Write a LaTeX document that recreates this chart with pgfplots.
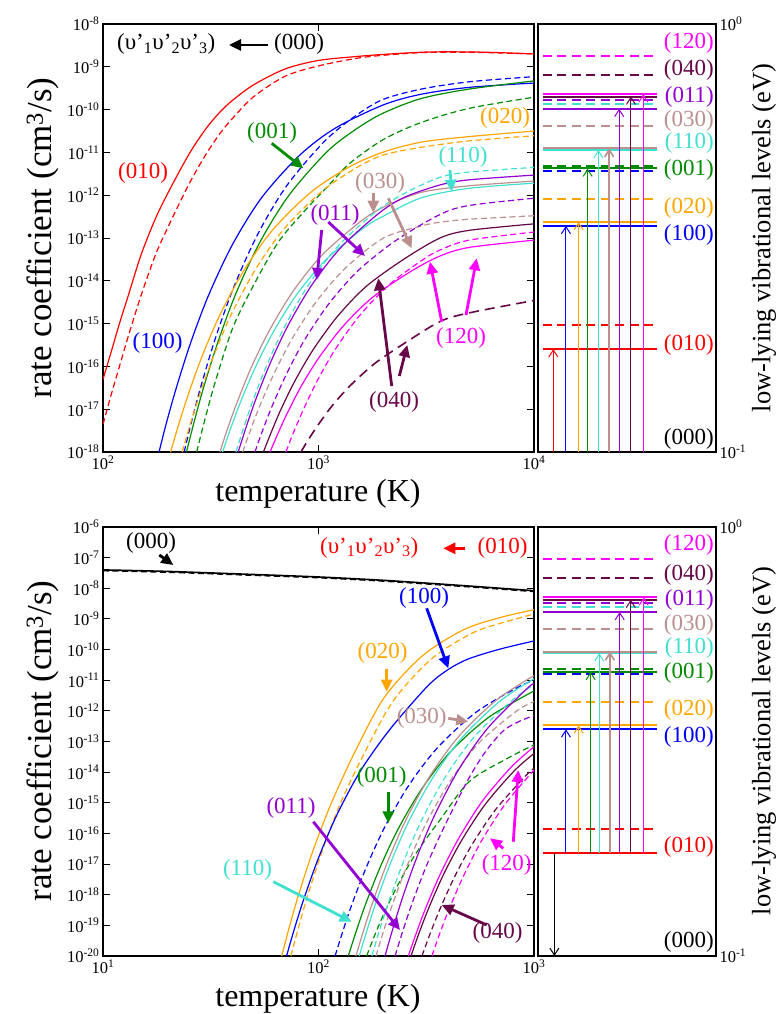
\documentclass[border=0pt]{standalone}
\usepackage{fontspec}
\setmainfont{Liberation Serif}
\usepackage{pgfplots}
\pgfplotsset{compat=1.18}
\usetikzlibrary{arrows.meta}

\definecolor{cred}{RGB}{255,0,0}
\definecolor{cblue}{RGB}{0,0,255}
\definecolor{corange}{RGB}{255,165,0}
\definecolor{cgreen}{RGB}{0,139,0}
\definecolor{cbrown}{RGB}{188,143,143}
\definecolor{ccyan}{RGB}{64,224,208}
\definecolor{cviolet}{RGB}{148,0,211}
\definecolor{cmaroon}{RGB}{103,7,72}
\definecolor{cmag}{RGB}{255,0,255}

\newcommand{\fa}{\fontsize{23}{23}\selectfont}
\newcommand{\fx}{\fontsize{32}{32}\selectfont}
\newcommand{\fy}{\fontsize{35}{35}\selectfont}
\newcommand{\fr}{\fontsize{26.5}{26.5}\selectfont}
\newcommand{\ft}{\fontsize{16.5}{16.5}\selectfont}
\newcommand{\tl}{\pgfmathparse{int(round(\tick))}\ft 10\textsuperscript{\pgfmathresult}}

\tikzset{
  sol/.style={line width=1.2pt, smooth},
  das/.style={line width=1.2pt, smooth, dash pattern=on 6pt off 3.5pt},
  lev/.style={line width=2pt},
  levd/.style={line width=2pt, dash pattern=on 9pt off 5.5pt},
  ann/.style={line width=2.8pt, -{Triangle[length=12pt,width=11pt]}},
  larr/.style={line width=1pt, -{Straight Barb[length=7pt,width=9pt]}},
  rlab/.style={anchor=east, inner sep=0pt, font=\fa},
  alab/.style={anchor=center, inner sep=0pt, font=\fa},
}

\begin{document}
\begin{tikzpicture}
\useasboundingbox (0pt,0pt) rectangle (781pt,-1014pt);

% ================= TOP MAIN =================
\begin{axis}[xmode=log, ymode=log, log basis x=10, log basis y=10,
  scale only axis, width=431pt, height=428pt, anchor=south west, at={(103pt,-452pt)},
  axis line style={line width=1.3pt}, tick style={black, line width=0.9pt},
  major tick length=7pt, minor tick length=4pt, tick align=inside,
  xticklabel={\tl}, yticklabel={\tl},
  xmin=100, xmax=10000, ymin=1e-18, ymax=1e-8,
  xtickten={2,3,4}, ytickten={-18,-17,...,-8}]
\addplot[sol, cred] coordinates {(100,5.01e-17)(110,2.51e-16)(120,1.12e-15)(130,3.98e-15)(150,3.98e-14)(175,2.82e-13)(200,1.12e-12)(250,8.91e-12)(300,3.55e-11)(350,8.91e-11)(400,1.66e-10)(500,3.80e-10)(700,8.91e-10)(1000,1.41e-9)(1500,1.74e-9)(2000,1.95e-9)(3000,2.19e-9)(4000,2.24e-9)(6000,2.19e-9)(10000,2.00e-9)};
\addplot[das, cred] coordinates {(100,4.47e-18)(110,2.51e-17)(120,1.12e-16)(130,4.47e-16)(150,4.47e-15)(175,3.98e-14)(200,1.78e-13)(250,1.78e-12)(300,8.91e-12)(350,2.82e-11)(400,6.31e-11)(500,2.00e-10)(700,6.03e-10)(1000,1.05e-9)(1500,1.58e-9)(2000,1.86e-9)(3000,2.14e-9)(5000,2.19e-9)(10000,2.00e-9)};
\addplot[sol, cblue] coordinates {(182,1e-18)(196,4.37e-18)(218,2.95e-17)(255,3.55e-16)(310,4.79e-15)(400,7.24e-14)(546,8.91e-13)(820,8.71e-12)(1200,3.72e-11)(2000,1.29e-10)(3000,2.29e-10)(5000,3.31e-10)(10000,4.17e-10)};
\addplot[das, cblue] coordinates {(238,1e-18)(257,4.90e-18)(286,3.72e-17)(333,4.68e-16)(405,7.24e-15)(524,1.26e-13)(714,1.70e-12)(1071,1.86e-11)(1500,7.41e-11)(2000,1.74e-10)(3000,3.02e-10)(5000,4.47e-10)(10000,5.89e-10)};
\addplot[sol, cgreen] coordinates {(244,1e-18)(264,4.79e-18)(293,3.24e-17)(342,3.80e-16)(415,5.25e-15)(537,8.32e-14)(732,1.02e-12)(1098,1.05e-11)(1500,3.55e-11)(2000,8.32e-11)(3000,1.82e-10)(5000,3.02e-10)(10000,4.68e-10)};
\addplot[das, cgreen] coordinates {(272,1e-18)(295,5.01e-18)(330,3.98e-17)(400,7.94e-16)(500,7.94e-15)(650,7.94e-14)(850,3.98e-13)(1100,1.58e-12)(1400,5.62e-12)(2000,2.00e-11)(3000,5.01e-11)(5000,1.07e-10)(10000,1.95e-10)};
\addplot[sol, corange] coordinates {(206,1e-18)(222,3.63e-18)(247,2.00e-17)(288,1.70e-16)(350,1.66e-15)(453,1.82e-14)(618,1.62e-13)(927,1.20e-12)(1400,4.68e-12)(2000,1.02e-11)(3000,1.74e-11)(5000,2.34e-11)(10000,3.16e-11)};
\addplot[das, corange] coordinates {(233,1e-18)(252,3.89e-18)(280,2.09e-17)(326,1.74e-16)(396,1.74e-15)(513,1.95e-14)(699,1.74e-13)(1049,1.29e-12)(1500,4.37e-12)(2000,8.71e-12)(3000,1.32e-11)(5000,1.86e-11)(10000,2.45e-11)};
\addplot[sol, cbrown] coordinates {(349,1e-18)(377,3.31e-18)(419,1.45e-17)(489,9.77e-17)(593,7.08e-16)(768,6.03e-15)(1047,4.17e-14)(1571,2.45e-13)(2000,5.25e-13)(3000,1.17e-12)(5000,1.66e-12)(10000,2.14e-12)};
\addplot[sol, ccyan] coordinates {(359,1e-18)(388,3.16e-18)(431,1.32e-17)(503,8.32e-17)(610,5.75e-16)(790,4.68e-15)(1077,3.02e-14)(1616,1.70e-13)(2000,3.24e-13)(3000,8.71e-13)(5000,1.45e-12)(10000,1.91e-12)};
\addplot[das, ccyan] coordinates {(414,1e-18)(447,3.39e-18)(497,1.62e-17)(580,1.17e-16)(704,9.55e-16)(911,8.91e-15)(1242,6.76e-14)(1863,4.27e-13)(2500,1.10e-12)(3664,2.63e-12)(5000,3.47e-12)(10000,4.47e-12)};
\addplot[sol, cviolet] coordinates {(424,1e-18)(458,3.39e-18)(509,1.58e-17)(594,1.12e-16)(721,8.91e-16)(933,8.13e-15)(1272,6.03e-14)(1908,3.80e-13)(2500,8.91e-13)(3664,1.74e-12)(5000,2.29e-12)(10000,2.95e-12)};
\addplot[das, cbrown] coordinates {(445,1e-18)(481,3.02e-18)(534,1.20e-17)(623,6.92e-17)(757,4.57e-16)(979,3.31e-15)(1335,2.00e-14)(2003,1.00e-13)(3000,1.91e-13)(3664,2.34e-13)(5000,2.75e-13)(10000,3.31e-13)};
\addplot[das, cviolet] coordinates {(507,1e-18)(548,3.02e-18)(608,1.15e-17)(710,6.61e-17)(862,4.17e-16)(1115,2.88e-15)(1521,1.70e-14)(2282,8.71e-14)(3664,3.55e-13)(5000,5.75e-13)(10000,8.51e-13)};
\addplot[sol, cmaroon] coordinates {(555,1e-18)(600,2.69e-18)(666,9.33e-18)(777,4.57e-17)(944,2.45e-16)(1221,1.45e-15)(1665,7.41e-15)(2498,3.24e-14)(3664,1.00e-13)(5000,1.51e-13)(10000,2.14e-13)};
\addplot[sol, cmag] coordinates {(596,1e-18)(644,2.51e-18)(715,7.94e-18)(834,3.55e-17)(1013,1.70e-16)(1311,9.12e-16)(1788,4.17e-15)(2682,1.66e-14)(3664,3.80e-14)(5000,6.03e-14)(10000,8.91e-14)};
\addplot[das, cmag] coordinates {(706,1e-18)(762,2.69e-18)(847,9.33e-18)(988,4.68e-17)(1200,2.57e-16)(1553,1.55e-15)(2118,7.94e-15)(3000,2.95e-14)(3664,5.25e-14)(5000,8.91e-14)(10000,1.38e-13)};
\addplot[line width=1.6pt, smooth, cmaroon, dash pattern=on 10pt off 6pt] coordinates {(829,1e-18)(895,1.91e-18)(995,4.27e-18)(1161,1.23e-17)(1409,3.63e-17)(1824,1.17e-16)(2487,3.39e-16)(3664,1.12e-15)(5000,1.78e-15)(10000,3.47e-15)};
\end{axis}

% ================= TOP LEVELS =================
\begin{axis}[ymode=log, log basis y=10, scale only axis, width=178pt, height=428pt,
  anchor=south west, at={(538pt,-452pt)},
  xmin=0, xmax=1, ymin=0.1, ymax=1,
  xtick=\empty, ytickten={-1,0}, ytick pos=right, yticklabel pos=right,
  axis line style={line width=1.3pt}, tick style={black, line width=0.9pt},
  major tick length=7pt, minor tick length=6pt, tick align=inside,
  yticklabel={\tl}, clip=false]
\addplot[levd, cmag] coordinates {(0.028,0.840)(0.669,0.840)};
\addplot[levd, cmaroon] coordinates {(0.028,0.7605)(0.669,0.7605)};
\addplot[levd, cviolet] coordinates {(0.028,0.664)(0.669,0.664)};
\addplot[levd, ccyan] coordinates {(0.028,0.651)(0.669,0.651)};
\addplot[levd, cbrown] coordinates {(0.028,0.5786)(0.669,0.5786)};
\addplot[levd, cgreen] coordinates {(0.028,0.4657)(0.669,0.4657)};
\addplot[levd, cblue] coordinates {(0.028,0.4534)(0.669,0.4534)};
\addplot[levd, corange] coordinates {(0.028,0.3908)(0.669,0.3908)};
\addplot[levd, cred] coordinates {(0.028,0.1977)(0.669,0.1977)};
\addplot[lev, cmag] coordinates {(0.028,0.686)(0.669,0.686)};
\addplot[lev, cmaroon] coordinates {(0.028,0.677)(0.669,0.677)};
\addplot[lev, cviolet] coordinates {(0.028,0.634)(0.669,0.634)};
\addplot[lev, ccyan] coordinates {(0.028,0.508)(0.669,0.508)};
\addplot[lev, cbrown] coordinates {(0.028,0.512)(0.669,0.512)};
\addplot[lev, cgreen] coordinates {(0.028,0.4597)(0.669,0.4597)};
\addplot[lev, corange] coordinates {(0.028,0.3449)(0.669,0.3449)};
\addplot[lev, cblue] coordinates {(0.028,0.3377)(0.669,0.3377)};
\addplot[lev, cred] coordinates {(0.028,0.174)(0.669,0.174)};
\draw[larr, cred] (axis cs:0.086,0.1) -- (axis cs:0.086,0.174);
\draw[larr, cblue] (axis cs:0.157,0.1) -- (axis cs:0.157,0.3377);
\draw[larr, corange] (axis cs:0.228,0.1) -- (axis cs:0.228,0.3449);
\draw[larr, cgreen] (axis cs:0.279,0.1) -- (axis cs:0.279,0.4597);
\draw[larr, ccyan] (axis cs:0.339,0.1) -- (axis cs:0.339,0.508);
\draw[larr, cbrown, line width=1.6pt] (axis cs:0.400,0.1) -- (axis cs:0.400,0.512);
\draw[larr, cviolet] (axis cs:0.456,0.1) -- (axis cs:0.456,0.634);
\draw[larr, cmaroon] (axis cs:0.522,0.1) -- (axis cs:0.522,0.677);
\draw[larr, cmag] (axis cs:0.592,0.1) -- (axis cs:0.592,0.686);
\end{axis}

% ================= BOTTOM MAIN =================
\begin{axis}[xmode=log, ymode=log, log basis x=10, log basis y=10,
  scale only axis, width=431pt, height=429pt, anchor=south west, at={(103pt,-956pt)},
  axis line style={line width=1.3pt}, tick style={black, line width=0.9pt},
  major tick length=7pt, minor tick length=4pt, tick align=inside,
  xticklabel={\tl}, yticklabel={\tl},
  xmin=10, xmax=1000, ymin=1e-20, ymax=1e-6,
  xtickten={1,2,3}, ytickten={-20,-19,...,-6}]
\addplot[line width=1.6pt, smooth, black] coordinates {(10,3.98e-8)(20,3.55e-8)(50,2.82e-8)(100,2.34e-8)(200,1.82e-8)(400,1.32e-8)(700,1.00e-8)(1000,8.32e-9)};
\addplot[das, black] coordinates {(10,3.72e-8)(20,3.31e-8)(50,2.63e-8)(100,2.19e-8)(200,1.70e-8)(400,1.23e-8)(700,9.33e-9)(1000,7.76e-9)};
\addplot[sol, corange] coordinates {(67.5,1e-20)(73,8.13e-20)(81,1.05e-18)(94.5,2.88e-17)(115,1.02e-15)(148.5,5.01e-14)(202.5,2.82e-12)(304,6.31e-11)(472,4.47e-10)(700,1.12e-9)(1000,2.00e-9)};
\addplot[das, corange] coordinates {(74.5,1e-20)(80.5,7.94e-20)(89.4,1.02e-18)(104.3,2.82e-17)(126.7,1.00e-15)(164,4.47e-14)(223.5,2.24e-12)(335,5.01e-11)(521,3.55e-10)(750,8.32e-10)(1000,1.45e-9)};
\addplot[sol, cblue] coordinates {(71.1,1e-20)(76.8,6.61e-20)(85.3,6.92e-19)(99.5,1.45e-17)(121,3.72e-16)(156,1.05e-14)(213,2.34e-13)(320,6.31e-12)(400,2.24e-11)(498,5.01e-11)(700,1.05e-10)(1000,1.91e-10)};
\addplot[das, cblue] coordinates {(119.4,1e-20)(129,5.75e-20)(143.3,5.13e-19)(167,8.13e-18)(203,1.62e-16)(263,3.80e-15)(358,6.46e-14)(537,8.91e-13)(836,5.75e-12)(1000,1.00e-11)};
\addplot[sol, cgreen] coordinates {(137.5,1e-20)(148.5,5.50e-20)(165,4.68e-19)(192.5,7.41e-18)(234,1.38e-16)(302.5,2.95e-15)(412.5,4.90e-14)(619,6.31e-13)(1000,4.47e-12)};
\addplot[sol, cbrown] coordinates {(149.2,1e-20)(161,6.03e-20)(179,6.03e-19)(209,1.17e-17)(254,2.69e-16)(328,7.24e-15)(448,1.48e-13)(671,2.29e-12)(1000,1.41e-11)};
\addplot[sol, ccyan] coordinates {(154.6,1e-20)(167,6.17e-20)(185.5,6.03e-19)(216.4,1.12e-17)(263,2.57e-16)(340,6.76e-15)(464,1.35e-13)(696,2.09e-12)(1000,1.12e-11)};
\addplot[das, cgreen] coordinates {(167.3,1e-20)(180.7,4.07e-20)(200.8,2.34e-19)(234,2.14e-18)(284,2.29e-17)(368,2.88e-16)(502,5.01e-15)(753,2.82e-14)(1000,7.76e-14)};
\addplot[das, ccyan] coordinates {(177,1e-20)(191,6.17e-20)(212.4,6.17e-19)(248,1.20e-17)(301,2.69e-16)(389,7.24e-15)(531,1.48e-13)(796,2.29e-12)(1000,7.08e-12)};
\addplot[das, cbrown] coordinates {(184.9,1e-20)(199.7,6.03e-20)(221.9,5.50e-19)(258.9,9.55e-18)(314.3,2.00e-16)(406.8,4.90e-15)(554.7,8.91e-14)(832,1.00e-12)(1000,2.00e-12)};
\addplot[sol, cviolet] coordinates {(203.5,1e-20)(219.8,6.61e-20)(244.2,7.24e-19)(284.9,1.55e-17)(346,3.98e-16)(447.7,1.23e-14)(610.5,2.75e-13)(916,4.90e-12)(1000,7.94e-12)};
\addplot[das, cviolet] coordinates {(226.6,1e-20)(244.7,5.75e-20)(271.9,5.25e-19)(317.2,8.91e-18)(385.2,1.78e-16)(498.5,6.31e-15)(600,5.01e-14)(721,2.24e-13)(850,4.47e-13)(1000,7.08e-13)};
\addplot[sol, cmag] coordinates {(261,1e-20)(282,4.79e-20)(313,3.39e-19)(365,4.27e-18)(444,6.31e-17)(574,1.10e-15)(783,1.45e-14)(1000,6.76e-14)};
\addplot[sol, cmaroon] coordinates {(268.7,1e-20)(290,4.68e-20)(322.4,3.24e-19)(376.2,3.89e-18)(456.8,5.25e-17)(591,8.51e-16)(806,1.07e-14)(1000,4.07e-14)};
\addplot[das, cmaroon] coordinates {(302,1e-20)(326,4.37e-20)(362,2.82e-19)(423,3.24e-18)(513,4.07e-17)(664,6.03e-16)(906,7.08e-15)(1000,1.35e-14)};
\addplot[das, cmag] coordinates {(336,1e-20)(363,4.79e-20)(403,3.31e-19)(470,3.98e-18)(571,5.75e-17)(739,9.55e-16)(1000,1.17e-14)};
\end{axis}

% ================= BOTTOM LEVELS =================
\begin{axis}[ymode=log, log basis y=10, scale only axis, width=178pt, height=429pt,
  anchor=south west, at={(538pt,-956pt)},
  xmin=0, xmax=1, ymin=0.1, ymax=1,
  xtick=\empty, ytickten={-1,0}, ytick pos=right, yticklabel pos=right,
  axis line style={line width=1.3pt}, tick style={black, line width=0.9pt},
  major tick length=7pt, minor tick length=6pt, tick align=inside,
  yticklabel={\tl}, clip=false]
\addplot[levd, cmag] coordinates {(0.028,0.840)(0.669,0.840)};
\addplot[levd, cmaroon] coordinates {(0.028,0.7605)(0.669,0.7605)};
\addplot[levd, cviolet] coordinates {(0.028,0.664)(0.669,0.664)};
\addplot[levd, ccyan] coordinates {(0.028,0.651)(0.669,0.651)};
\addplot[levd, cbrown] coordinates {(0.028,0.5786)(0.669,0.5786)};
\addplot[levd, cgreen] coordinates {(0.028,0.4657)(0.669,0.4657)};
\addplot[levd, cblue] coordinates {(0.028,0.4534)(0.669,0.4534)};
\addplot[levd, corange] coordinates {(0.028,0.3908)(0.669,0.3908)};
\addplot[levd, cred] coordinates {(0.028,0.1977)(0.669,0.1977)};
\addplot[lev, cmag] coordinates {(0.028,0.686)(0.669,0.686)};
\addplot[lev, cmaroon] coordinates {(0.028,0.677)(0.669,0.677)};
\addplot[lev, cviolet] coordinates {(0.028,0.634)(0.669,0.634)};
\addplot[lev, ccyan] coordinates {(0.028,0.508)(0.669,0.508)};
\addplot[lev, cbrown] coordinates {(0.028,0.512)(0.669,0.512)};
\addplot[lev, cgreen] coordinates {(0.028,0.4597)(0.669,0.4597)};
\addplot[lev, corange] coordinates {(0.028,0.3449)(0.669,0.3449)};
\addplot[lev, cblue] coordinates {(0.028,0.3377)(0.669,0.3377)};
\addplot[lev, cred] coordinates {(0.028,0.174)(0.669,0.174)};
\draw[larr, black] (axis cs:0.092,0.174) -- (axis cs:0.092,0.1);
\draw[larr, cblue] (axis cs:0.157,0.174) -- (axis cs:0.157,0.3377);
\draw[larr, corange] (axis cs:0.228,0.174) -- (axis cs:0.228,0.3449);
\draw[larr, cgreen] (axis cs:0.296,0.174) -- (axis cs:0.296,0.4597);
\draw[larr, ccyan] (axis cs:0.344,0.174) -- (axis cs:0.344,0.508);
\draw[larr, cbrown, line width=1.6pt] (axis cs:0.404,0.174) -- (axis cs:0.404,0.512);
\draw[larr, cviolet] (axis cs:0.459,0.174) -- (axis cs:0.459,0.634);
\draw[larr, cmaroon] (axis cs:0.521,0.174) -- (axis cs:0.521,0.677);
\draw[larr, cmag] (axis cs:0.594,0.174) -- (axis cs:0.594,0.686);
\end{axis}

% ================= AXIS LABELS =================
\node[rotate=90, font=\fy, inner sep=0pt] at (43pt,-238pt) {rate coefficient (cm\textsuperscript{3}/s)};
\node[rotate=90, font=\fy, inner sep=0pt] at (43pt,-741pt) {rate coefficient (cm\textsuperscript{3}/s)};
\node[font=\fx, inner sep=0pt, anchor=base] at (318pt,-501pt) {temperature (K)};
\node[font=\fx, inner sep=0pt, anchor=base] at (318pt,-1006pt) {temperature (K)};
\node[rotate=90, font=\fr, inner sep=0pt] at (764pt,-238pt) {low-lying vibrational levels (eV)};
\node[rotate=90, font=\fr, inner sep=0pt] at (764pt,-741pt) {low-lying vibrational levels (eV)};

% ================= TOP ANNOTATIONS =================
\node[anchor=base west, inner sep=0pt, font=\fa] at (117pt,-50pt) {(υ’\textsubscript{1}υ’\textsubscript{2}υ’\textsubscript{3})};
\node[anchor=base, inner sep=0pt, font=\fa] at (299pt,-50pt) {(000)};
\draw[ann, black] (268pt,-45pt) -- (229pt,-45pt);
\node[alab, cred] at (143pt,-173pt) {(010)};
\node[alab, cgreen] at (272pt,-133pt) {(001)};
\draw[ann, cgreen] (271.7pt,-143.3pt) -- (303.3pt,-168.3pt);
\node[alab, cblue] at (157.5pt,-343pt) {(100)};
\node[alab, corange] at (505pt,-118pt) {(020)};
\node[alab, ccyan] at (463pt,-157pt) {(110)};
\draw[ann, ccyan] (450pt,-170pt) -- (451.7pt,-191.7pt);
\node[alab, cbrown] at (380pt,-183pt) {(030)};
\draw[ann, cbrown] (373.3pt,-193.3pt) -- (373.3pt,-212.7pt);
\draw[ann, cbrown] (388.3pt,-198.3pt) -- (411.7pt,-248.3pt);
\node[alab, cviolet] at (335pt,-215pt) {(011)};
\draw[ann, cviolet] (321.7pt,-230pt) -- (316.7pt,-280pt);
\draw[ann, cviolet] (328.3pt,-222pt) -- (365pt,-256pt);
\node[alab, cmaroon] at (394pt,-402pt) {(040)};
\draw[ann, cmaroon] (391.7pt,-386pt) -- (378.3pt,-278.3pt);
\draw[ann, cmaroon] (399.3pt,-376pt) -- (407.3pt,-345pt);
\node[alab, cmag] at (461pt,-338pt) {(120)};
\draw[ann, cmag] (441.7pt,-321.7pt) -- (430pt,-261.7pt);
\draw[ann, cmag] (466pt,-315pt) -- (476.7pt,-258.3pt);
\node[rlab, cmag] at (714pt,-42.7pt) {(120)};
\node[rlab, cmaroon] at (714pt,-70pt) {(040)};
\node[rlab, cviolet] at (714pt,-96.7pt) {(011)};
\node[rlab, cbrown] at (714pt,-120.7pt) {(030)};
\node[rlab, ccyan] at (714pt,-143.3pt) {(110)};
\node[rlab, cgreen] at (714pt,-170pt) {(001)};
\node[rlab, corange] at (714pt,-208.3pt) {(020)};
\node[rlab, cblue] at (714pt,-235pt) {(100)};
\node[rlab, cred] at (714pt,-345pt) {(010)};
\node[rlab, black] at (714pt,-439pt) {(000)};

% ================= BOTTOM ANNOTATIONS =================
\node[alab, black] at (151pt,-543pt) {(000)};
\draw[ann, black] (159.3pt,-555pt) -- (173.3pt,-565pt);
\node[anchor=base west, inner sep=0pt, font=\fa, cred] at (320pt,-553pt) {(υ’\textsubscript{1}υ’\textsubscript{2}υ’\textsubscript{3})};
\node[anchor=base, inner sep=0pt, font=\fa, cred] at (502.5pt,-553pt) {(010)};
\draw[ann, cred] (465pt,-548.3pt) -- (443.3pt,-548.3pt);
\node[alab, cblue] at (424pt,-598pt) {(100)};
\draw[ann, cblue] (426.7pt,-608.3pt) -- (448.3pt,-668.3pt);
\node[alab, corange] at (382.5pt,-653pt) {(020)};
\draw[ann, corange] (386.7pt,-669.3pt) -- (386.7pt,-691.7pt);
\node[alab, cbrown] at (421.7pt,-718pt) {(030)};
\draw[ann, cbrown] (448.3pt,-718.3pt) -- (468.3pt,-721.7pt);
\node[alab, cgreen] at (381.7pt,-777pt) {(001)};
\draw[ann, cgreen] (388.3pt,-791.7pt) -- (388.3pt,-823.3pt);
\node[alab, cviolet] at (291pt,-808pt) {(011)};
\draw[ann, cviolet] (313.3pt,-821.7pt) -- (400pt,-930pt);
\node[alab, ccyan] at (247.5pt,-870pt) {(110)};
\draw[ann, ccyan] (273.3pt,-881.7pt) -- (351.7pt,-921.7pt);
\node[alab, cmag] at (506.7pt,-865pt) {(120)};
\draw[ann, cmag] (503.3pt,-848.3pt) -- (490pt,-838.3pt);
\draw[ann, cmag] (513.3pt,-841.7pt) -- (518.3pt,-770pt);
\node[alab, cmaroon] at (497.5pt,-933pt) {(040)};
\draw[ann, cmaroon] (486.7pt,-925pt) -- (441.7pt,-905pt);
\node[rlab, cmag] at (714pt,-545pt) {(120)};
\node[rlab, cmaroon] at (714pt,-575pt) {(040)};
\node[rlab, cviolet] at (714pt,-600pt) {(011)};
\node[rlab, cbrown] at (714pt,-625pt) {(030)};
\node[rlab, ccyan] at (714pt,-648.3pt) {(110)};
\node[rlab, cgreen] at (714pt,-673.3pt) {(001)};
\node[rlab, corange] at (714pt,-710pt) {(020)};
\node[rlab, cblue] at (714pt,-736.7pt) {(100)};
\node[rlab, cred] at (714pt,-846.7pt) {(010)};
\node[rlab, black] at (714pt,-941.7pt) {(000)};
\end{tikzpicture}
\end{document}
